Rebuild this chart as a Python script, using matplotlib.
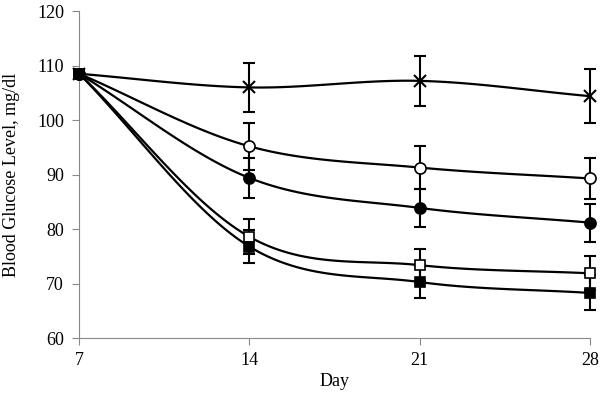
import numpy as np
from matplotlib import pyplot as plt

plt.rcParams['font.family'] = ['Liberation Serif', 'DejaVu Serif']

days = [7, 14, 21, 28]

# mean blood glucose (mg/dl) and error per group
cross_y = [108.5, 106.0, 107.2, 104.4]
cross_err = [0, 4.5, 4.6, 5.0]
ocirc_y = [108.5, 95.2, 91.3, 89.3]
ocirc_err = [0, 4.3, 4.0, 3.8]
fcirc_y = [108.5, 89.4, 83.9, 81.2]
fcirc_err = [0, 3.6, 3.5, 3.5]
osq_y = [108.5, 78.6, 73.4, 71.9]
osq_err = [0, 3.2, 3.0, 3.1]
fsq_y = [108.5, 76.8, 70.3, 68.3]
fsq_err = [0, 3.0, 2.9, 3.2]


def smooth(x, y, n=40):
    # catmull-rom curve through the points, like excel's smoothed line
    x = np.asarray(x, float)
    y = np.asarray(y, float)
    px = np.concatenate([[2 * x[0] - x[1]], x, [2 * x[-1] - x[-2]]])
    py = np.concatenate([[2 * y[0] - y[1]], y, [2 * y[-1] - y[-2]]])
    xs, ys = [], []
    t = np.linspace(0, 1, n)
    for i in range(1, len(px) - 2):
        for p, out in ((px, xs), (py, ys)):
            p0, p1, p2, p3 = p[i - 1], p[i], p[i + 1], p[i + 2]
            out.extend(0.5 * (2 * p1 + (-p0 + p2) * t
                              + (2 * p0 - 5 * p1 + 4 * p2 - p3) * t ** 2
                              + (-p0 + 3 * p1 - 3 * p2 + p3) * t ** 3))
    return xs, ys


fig = plt.figure(figsize=(6, 3.96), dpi=100)
ax = fig.add_axes([0.132, 0.146, 0.851, 0.826])

series = [
    (cross_y, cross_err, dict(marker='x', ms=8, mew=1.5, mfc='black')),
    (ocirc_y, ocirc_err, dict(marker='o', ms=8, mew=1.2, mfc='white')),
    (fcirc_y, fcirc_err, dict(marker='o', ms=8, mew=1.2, mfc='black')),
    (osq_y, osq_err, dict(marker='s', ms=7, mew=1.2, mfc='white')),
    (fsq_y, fsq_err, dict(marker='s', ms=7.5, mew=1.2, mfc='black')),
]

for y, err, mk in series:
    sx, sy = smooth(days, y)
    ax.plot(sx, sy, color='black', lw=1.6, clip_on=False, zorder=2)
    ax.errorbar(days[1:], y[1:], yerr=err[1:], fmt='none', ecolor='black',
                elinewidth=1.5, capsize=4, capthick=1.5, clip_on=False, zorder=3)
    ax.plot(days, y, ls='none', mec='black', clip_on=False, zorder=4, **mk)

ax.set_xlim(7, 28)
ax.set_ylim(60, 120)
ax.set_xticks(days)
ax.set_yticks(range(60, 121, 10))
ax.set_xlabel('Day', fontsize=13, labelpad=3)
ax.set_ylabel('Blood Glucose Level, mg/dl', fontsize=13, labelpad=12)
ax.tick_params(labelsize=13, color='#888888', length=5, width=0.8)
ax.tick_params(axis='x', pad=5)
ax.tick_params(axis='y', pad=6)
for s in ['top', 'right']:
    ax.spines[s].set_visible(False)
for s in ['left', 'bottom']:
    ax.spines[s].set_color('#888888')
    ax.spines[s].set_linewidth(0.8)

plt.savefig('out.png', dpi=100)
